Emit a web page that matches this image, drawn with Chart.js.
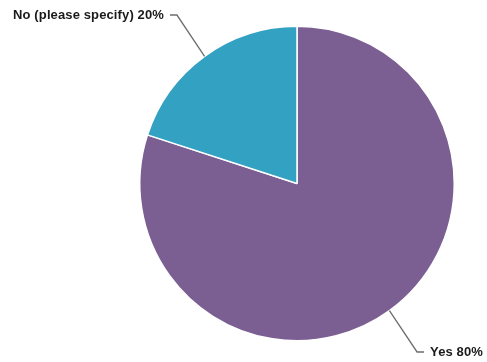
<!DOCTYPE html>
<html>
<head>
<meta charset="utf-8">
<script src="https://cdn.jsdelivr.net/npm/chart.js@4/dist/chart.umd.min.js"></script>
<style>
  html, body { margin: 0; padding: 0; background: #ffffff; }
  #wrap { width: 487px; height: 362px; position: relative; }
</style>
</head>
<body>
<div id="wrap"><canvas id="c" width="487" height="362"></canvas></div>
<script>
const categories = ['Yes', 'No (please specify)'];
const percentages = [80, 20];
const sliceColors = ['#7b5f93', '#33a1c2'];

const leaderPlugin = {
  id: 'leaderLabels',
  afterDatasetsDraw(chart) {
    const ctx = chart.ctx;
    const meta = chart.getDatasetMeta(0);
    ctx.save();
    ctx.font = 'bold 13px "Liberation Sans", Arial, sans-serif';
    if ('letterSpacing' in ctx) ctx.letterSpacing = '0.12px';
    meta.data.forEach((arc, i) => {
      const p = arc.getProps(['x', 'y', 'startAngle', 'endAngle', 'outerRadius'], true);
      const mid = (p.startAngle + p.endAngle) / 2;
      const cos = Math.cos(mid), sin = Math.sin(mid);
      const ex = p.x + cos * p.outerRadius;
      const ey = p.y + sin * p.outerRadius;
      const bx = ex + cos * 47;
      const by = ey + sin * 51;
      const right = cos >= 0;
      const hx = bx + (right ? 7 : -7);
      ctx.strokeStyle = '#6e6e6e';
      ctx.lineWidth = 1.3;
      ctx.beginPath();
      ctx.moveTo(ex, ey);
      ctx.lineTo(bx, by);
      ctx.lineTo(hx, by);
      ctx.stroke();
      ctx.fillStyle = '#1a1a1a';
      ctx.textBaseline = 'middle';
      ctx.textAlign = right ? 'left' : 'right';
      const txt = categories[i] + ' ' + percentages[i] + '%';
      ctx.fillText(txt, hx + (right ? 6 : -6), by + 0.5);
    });
    ctx.restore();
  }
};

new Chart(document.getElementById('c'), {
  type: 'pie',
  data: {
    labels: categories,
    datasets: [{
      data: percentages,
      backgroundColor: sliceColors,
      borderColor: '#ffffff',
      borderWidth: 1.5
    }]
  },
  options: {
    responsive: false,
    animation: false,
    layout: { padding: { left: 139, right: 32, top: 25.5, bottom: 20.5 } },
    plugins: {
      legend: { display: false },
      tooltip: { enabled: false }
    }
  },
  plugins: [leaderPlugin]
});
</script>
</body>
</html>
